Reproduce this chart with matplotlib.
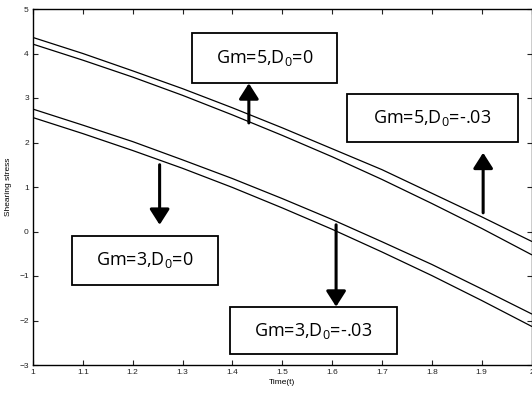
import matplotlib
matplotlib.use("Agg")
import matplotlib.pyplot as plt
from matplotlib.patches import Rectangle

plt.rcParams["mathtext.fontset"] = "custom"
plt.rcParams["mathtext.rm"] = "Open Sans"
plt.rcParams["mathtext.it"] = "Open Sans"

# Time axis
t = [1.0, 1.1, 1.2, 1.3, 1.4, 1.5, 1.6, 1.7, 1.8, 1.9, 2.0]

# Shearing stress curves
gm5_d0 = [4.36, 4.00, 3.61, 3.21, 2.78, 2.33, 1.86, 1.39, 0.86, 0.33, -0.22]
gm5_d03 = [4.21, 3.85, 3.47, 3.06, 2.62, 2.16, 1.68, 1.17, 0.63, 0.07, -0.52]
gm3_d0 = [2.75, 2.39, 2.02, 1.61, 1.19, 0.74, 0.27, -0.23, -0.74, -1.29, -1.85]
gm3_d03 = [2.56, 2.20, 1.82, 1.42, 0.99, 0.53, 0.05, -0.46, -0.99, -1.55, -2.13]

xticks = [1, 1.1, 1.2, 1.3, 1.4, 1.5, 1.6, 1.7, 1.8, 1.9, 2]
xtick_labels = ["1", "1.1", "1.2", "1.3", "1.4", "1.5", "1.6", "1.7", "1.8", "1.9", "2"]
yticks = [-3, -2, -1, 0, 1, 2, 3, 4, 5]

# Label boxes: text, (x0, x1, y0, y1) in data units
labels = [
    (r"Gm=5,D$_{0}$=0", (1.319, 1.610, 3.33, 4.46)),
    (r"Gm=5,D$_{0}$=-.03", (1.630, 1.972, 2.01, 3.09)),
    (r"Gm=3,D$_{0}$=0", (1.078, 1.371, -1.20, -0.09)),
    (r"Gm=3,D$_{0}$=-.03", (1.395, 1.730, -2.75, -1.70)),
]
# Arrows: x, y_start, y_end
arrows = [
    (1.433, 2.44, 3.33),
    (1.903, 0.42, 1.77),
    (1.254, 1.50, 0.15),
    (1.608, 0.15, -1.69),
]

fig = plt.figure(figsize=(5.32, 3.97), dpi=100)
ax = fig.add_axes([33 / 532, 32 / 397, 498.5 / 532, 356 / 397])

for ys in (gm5_d0, gm5_d03, gm3_d0, gm3_d03):
    ax.plot(t, ys, color="black", lw=0.9)

ax.set_xlim(1, 2)
ax.set_ylim(-3, 5)
ax.set_xticks(xticks)
ax.set_xticklabels(xtick_labels)
ax.set_yticks(yticks)
ax.tick_params(direction="in", length=3.5, width=0.8, top=True, right=True,
               labelsize=6, colors="#222222", pad=3)
for lab in ax.get_xticklabels() + ax.get_yticklabels():
    lab.set_fontfamily("Liberation Sans")
for s in ax.spines.values():
    s.set_linewidth(1.0)

ax.set_xlabel("Time(t)", fontsize=6, family="Liberation Sans", labelpad=2)
ax.set_ylabel("Shearing stress", fontsize=6, family="Liberation Sans", labelpad=5)

for text, (x0, x1, y0, y1) in labels:
    ax.add_patch(Rectangle((x0, y0), x1 - x0, y1 - y0, facecolor="white",
                           edgecolor="black", lw=1.3, zorder=3))
    ax.text((x0 + x1) / 2, (y0 + y1) / 2, text, ha="center", va="center",
            fontsize=13, family="Open Sans", zorder=4)

for x, ya, yb in arrows:
    ax.annotate("", xy=(x, yb), xytext=(x, ya),
                arrowprops=dict(arrowstyle="-|>,head_length=0.47,head_width=0.3",
                                mutation_scale=20, lw=2.2, color="black",
                                shrinkA=0, shrinkB=0),
                zorder=5)

fig.savefig("out.png", dpi=100)
